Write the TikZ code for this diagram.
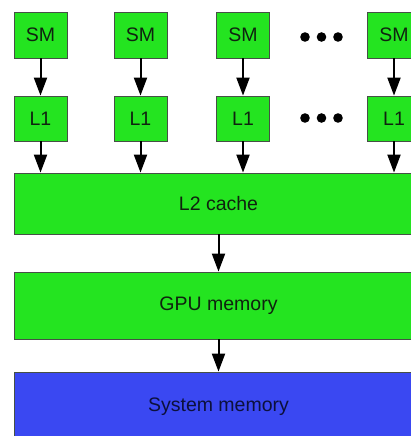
\documentclass[tikz,border=0pt]{standalone}
\usepackage{fontspec}
\setmainfont{Liberation Sans}
\usetikzlibrary{arrows.meta}
\definecolor{boxgreen}{RGB}{36,228,32}
\definecolor{boxblue}{RGB}{58,72,242}
\definecolor{edgegray}{RGB}{70,80,70}
\definecolor{txtgreen}{RGB}{15,35,15}
\definecolor{txtblue}{RGB}{12,16,60}
\begin{document}
\begin{tikzpicture}[x=1pt,y=-1pt,
  box/.style={draw=edgegray, line width=0.8pt, fill=boxgreen, text=txtgreen,
    inner sep=0pt, font=\fontsize{19.5}{21}\selectfont},
  small/.style={box, minimum width=53pt, minimum height=46pt},
  wide/.style={box, minimum width=409pt},
  flow/.style={line width=2pt, -{Triangle[length=18pt,width=13pt]}},
  dot/.style={fill=black}]
\useasboundingbox (0,0) rectangle (411,436);
\clip (0,0) rectangle (411,436);
\fill[white] (0,0) rectangle (411,436);
% SM row
\node[small] (sm1) at (40.5,35) {SM};
\node[small] (sm2) at (140.5,35) {SM};
\node[small] (sm3) at (243,35) {SM};
\node[small] (sm4) at (394,35) {SM};
% L1 row
\node[small, minimum height=45pt] (l1a) at (40.5,118.5) {L1};
\node[small, minimum height=45pt] (l1b) at (140.5,118.5) {L1};
\node[small, minimum height=45pt] (l1c) at (243,118.5) {L1};
\node[small, minimum height=45pt] (l1d) at (394,118.5) {L1};
% wide boxes
\node[wide, minimum height=61pt] (l2) at (218.5,203.5) {L2 cache};
\node[wide, minimum height=67pt] (gpu) at (218.5,305.5) {GPU memory};
\node[wide, minimum height=70pt, fill=boxblue, text=txtblue] (sys) at (218.5,407) {System memory};
% dots
\foreach \y in {37,118}{
  \foreach \x in {305,321.5,338}{
    \fill[dot] (\x,\y) circle (4.8pt);
  }
}
% arrows
\foreach \a/\b in {sm1/l1a, sm2/l1b, sm3/l1c, sm4/l1d}{
  \draw[flow] (\a.south) -- (\b.north);
}
\foreach \a in {l1a, l1b, l1c, l1d}{
  \draw[flow] (\a.south) -- (\a.south |- l2.north);
}
\draw[flow] (l2.south) -- (gpu.north);
\draw[flow] (gpu.south) -- (sys.north);
\end{tikzpicture}
\end{document}
